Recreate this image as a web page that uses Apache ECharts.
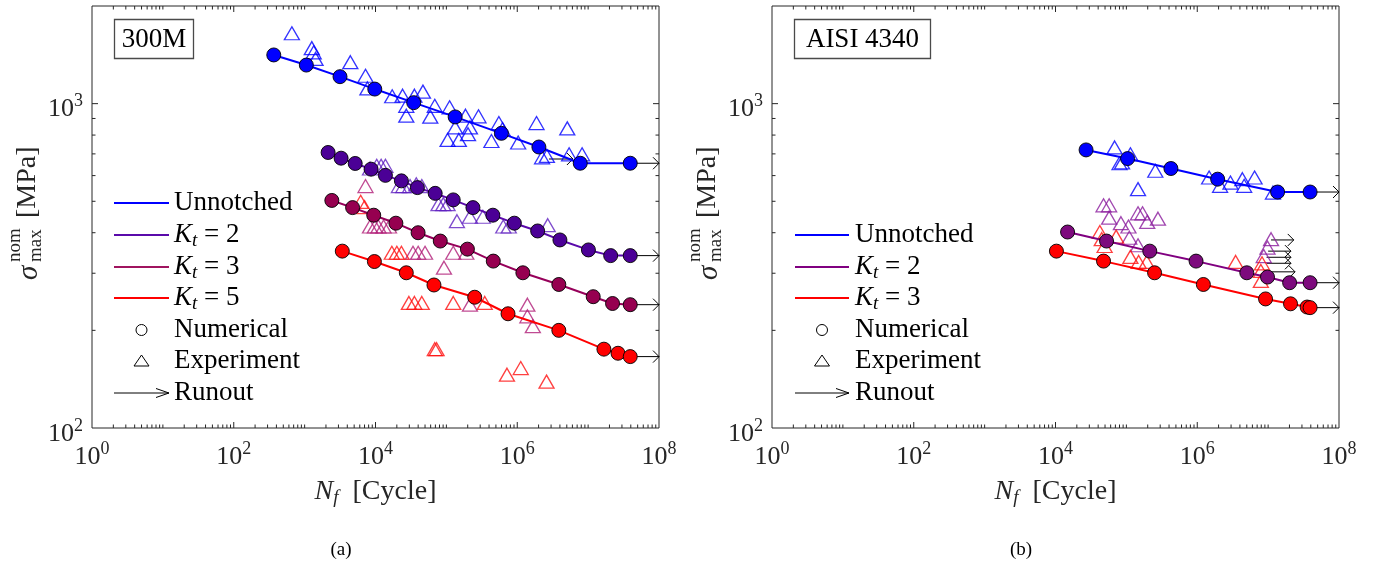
<!DOCTYPE html>
<html><head><meta charset="utf-8">
<script src="https://cdn.jsdelivr.net/npm/echarts@6/dist/echarts.min.js"></script>
<style>html,body{margin:0;padding:0;background:#fff}#c{width:1380px;height:564px}</style>
</head><body><div id="c"></div>
<script>
// ---------------- data: panel (a) 300M  [N cycles, sigma MPa] ----------------
const a_unnotched_num = [[367,1413],[1057,1315],[3157,1211],[9770,1109],[34600,1007],[133000,910],[598000,810],[2.02e6,735],[7.74e6,655],[3.93e7,655]];
const a_unnotched_exp = [[661,1648],[1262,1483],[1343,1440],[1426,1374],[4416,1342],[7230,1219],[7690,1114],[17200,1054],[24100,1058],[27200,985],[35400,1058],[46700,1089],[27200,918],[68600,985],[59300,912],[111000,974],[186000,918],[284000,914],[133000,845],[215000,845],[104000,773],[150000,773],[202000,805],[550000,871],[621000,835],[432000,767],[1.03e6,759],[1.87e6,871],[5.08e6,839],[2.62e6,690],[5.39e6,698],[8.22e6,698],[2.24e6,683]];
const a_kt2_num = [[2145,707],[3270,679],[5170,654],[8660,628],[13800,601],[23200,578],[39000,551],[69500,529],[125000,505],[237000,478],[453000,453],[910000,428],[1.94e6,405],[4.0e6,380],[1.01e7,354],[2.08e7,340],[3.93e7,340]];
const a_kt2_exp = [[8360,631],[10400,643],[12000,643],[13800,643],[21400,557],[24700,557],[30700,557],[37600,564],[45000,557],[77400,490],[90400,490],[104000,490],[141000,434],[215000,448],[327000,448],[635000,418],[760000,418],[2.69e6,422]];
const a_kt3_num = [[2420,503],[4750,478],[9440,453],[19400,428],[39900,400],[82000,377],[198000,356],[459000,327],[1.2e6,301],[3.86e6,277],[1.18e7,254],[2.21e7,242],[3.93e7,240]];
const a_kt3_exp = [[7230,557],[8360,418],[9800,418],[11000,418],[13000,418],[15500,418],[33800,347],[40000,347],[50000,347],[92500,312],[125000,347],[191000,347],[215000,240],[1.39e6,240],[1.39e6,221],[1.66e6,206]];
const a_kt5_num = [[3400,351],[9650,326],[27200,301],[66800,276],[251000,253],[741000,225],[3.86e6,200],[1.67e7,175],[2.64e7,170],[3.93e7,166]];
const a_kt5_exp = [[6180,498],[7000,480],[17000,347],[20000,347],[23200,347],[29600,243],[35400,243],[45000,243],[125000,243],[348000,243],[68600,175],[72800,175],[716000,146],[1.12e6,153],[2.59e6,139]];
const a_runout = [[3.93e7,1e8,655],[3.93e7,1e8,340],[3.93e7,1e8,240],[3.93e7,1e8,166],[2.8e6,6.1e6,675]];

// ---------------- data: panel (b) AISI 4340 ----------------
const b_unnotched_num = [[27000,720],[104000,677],[425000,631],[1.94e6,585],[1.36e7,534],[3.91e7,534]];
const b_unnotched_exp = [[68200,733],[114000,698],[86900,659],[80000,655],[256000,621],[1.47e6,592],[2.1e6,558],[2.94e6,571],[4.33e6,585],[6.44e6,592],[4.59e6,558],[1.17e7,532],[146000,545]];
const b_kt2_num = [[14800,402],[52500,377],[214000,351],[962000,327],[5.0e6,301],[9.8e6,292],[2.01e7,280.5],[3.91e7,280.5]];
const b_kt2_exp = [[47600,486],[57100,486],[57100,445],[83800,428],[107000,418],[146000,459],[169000,459],[197000,432],[279000,442],[110000,386],[146000,366],[1.1e7,382],[9.8e6,360],[8.67e6,339]];
const b_kt3_num = [[10300,351],[47600,327],[250000,301],[1.22e6,277],[9.2e6,250],[2.07e7,241.5],[3.55e7,236],[3.91e7,235]];
const b_kt3_exp = [[42200,402],[44900,382],[49300,364],[71700,389],[114000,337],[149000,325],[194000,325],[3.48e6,325],[8.2e6,322],[7.9e6,305],[7.9e6,284]];
const b_runout = [[3.91e7,1e8,534],[3.91e7,1e8,280.5],[3.91e7,1e8,235],[1.1e7,2.3e7,380],[1.0e7,2.1e7,351],[9.5e6,2.1e7,336],[9.5e6,2.1e7,322],[9.5e6,2.4e7,303]];

// ---------------- axes ----------------
const X_MIN = 1, X_MAX = 1e8, Y_MIN = 100, Y_MAX = 2000;
const xLabelExps = [0, 2, 4, 6, 8];
const yLabelExps = [2, 3];
const xMajorTicks = [1e2, 1e4, 1e6];
const xDecades = [1, 10, 100, 1e3, 1e4, 1e5, 1e6, 1e7];
const xOddDecades = [10, 1e3, 1e5, 1e7];
const minorMult = [2, 3, 4, 5, 6, 7, 8, 9];
const yMajorTicks = [1e3];
const yMinorTicks = [200, 300, 400, 500, 600, 700, 800, 900];

const FONT = "'Liberation Serif','Times New Roman',serif";
const INK = '#262626';

const xMinorTicks = [];
xDecades.forEach(d => minorMult.forEach(m => xMinorTicks.push(d * m)));
xOddDecades.forEach(v => xMinorTicks.push(v));

function expOf(v) { const l = Math.log10(v); const e = Math.round(l); return Math.abs(l - e) < 1e-6 ? e : null; }
const labelRich = {
  b: { fontSize: 26, fontFamily: FONT, color: INK },
  s: { fontSize: 18, fontFamily: FONT, color: INK, padding: [0, 0, 16, 0] }
};
function xAxis(gi) {
  return { type: 'log', gridIndex: gi, logBase: 10, min: X_MIN, max: X_MAX,
    axisLine: { show: false }, axisTick: { show: false }, splitLine: { show: false }, minorTick: { show: false },
    axisLabel: { margin: 12, showMinLabel: true, showMaxLabel: true, hideOverlap: false,
      formatter: v => { const e = expOf(v); return (e !== null && xLabelExps.includes(e)) ? `{b|10}{s|${e}}` : ''; },
      rich: labelRich } };
}
function yAxis(gi) {
  return { type: 'log', gridIndex: gi, logBase: 10, min: Y_MIN, max: Y_MAX,
    axisLine: { show: false }, axisTick: { show: false }, splitLine: { show: false }, minorTick: { show: false },
    axisLabel: { margin: 9, padding: [12, 0, 0, 0], showMinLabel: true, showMaxLabel: true, hideOverlap: false,
      formatter: v => { const e = expOf(v); return (e !== null && yLabelExps.includes(e)) ? `{b|10}{s|${e}}` : ''; },
      rich: labelRich } };
}

function numSeries(gi, data, fill, line) {
  return { type: 'line', xAxisIndex: gi, yAxisIndex: gi, data, symbol: 'circle', symbolSize: 14,
    showSymbol: true, showAllSymbol: true, lineStyle: { color: line, width: 2 },
    itemStyle: { color: fill, borderColor: '#000', borderWidth: 0.9 }, z: 3, silent: true, animation: false };
}
function expSeries(gi, data, color) {
  return { type: 'scatter', xAxisIndex: gi, yAxisIndex: gi, data, symbol: 'triangle', symbolSize: [15, 13],
    itemStyle: { color: 'rgba(0,0,0,0)', borderColor: color, borderWidth: 1.3 }, z: 2, silent: true, animation: false };
}
function runoutSeries(gi, data) {
  return { type: 'custom', xAxisIndex: gi, yAxisIndex: gi, data, encode: { x: [0, 1], y: 2 }, clip: false, z: 1, silent: true,
    renderItem: (p, api) => {
      const a = api.coord([api.value(0), api.value(2)]);
      const b = api.coord([api.value(1), api.value(2)]);
      return { type: 'group', children: [
        { type: 'line', shape: { x1: a[0], y1: a[1], x2: b[0], y2: b[1] }, style: { stroke: '#000', lineWidth: 1 } },
        { type: 'polyline', shape: { points: [[b[0] - 6, b[1] - 6], [b[0], b[1]], [b[0] - 6, b[1] + 6]] }, style: { stroke: '#000', fill: 'none', lineWidth: 1 } }
      ] };
    } };
}
function tickSeries(gi) {
  const list = [];
  xMajorTicks.forEach(v => list.push(['x', v, 6]));
  xMinorTicks.forEach(v => list.push(['x', v, 3.5]));
  yMajorTicks.forEach(v => list.push(['y', v, 6]));
  yMinorTicks.forEach(v => list.push(['y', v, 3.5]));
  const data = list.map(t => t[0] === 'x' ? [t[1], Y_MIN] : [X_MIN, t[1]]);
  return { type: 'custom', xAxisIndex: gi, yAxisIndex: gi, data, clip: false, z: 10, silent: true,
    renderItem: (p, api) => {
      const t = list[p.dataIndex];
      const bl = api.coord([X_MIN, Y_MIN]), tr = api.coord([X_MAX, Y_MAX]);
      let segs;
      if (t[0] === 'x') { const c = api.coord([t[1], Y_MIN])[0]; segs = [[c, bl[1], c, bl[1] - t[2]], [c, tr[1], c, tr[1] + t[2]]]; }
      else { const c = api.coord([X_MIN, t[1]])[1]; segs = [[bl[0], c, bl[0] + t[2], c], [tr[0], c, tr[0] - t[2], c]]; }
      return { type: 'group', children: segs.map(s => ({ type: 'line', shape: { x1: s[0], y1: s[1], x2: s[2], y2: s[3] }, style: { stroke: INK, lineWidth: 1 } })) };
    } };
}

// ---------------- graphics (legend, titles, labels) ----------------
const LEG = 27;
const ktRich = {
  i: { fontSize: LEG, fontFamily: FONT, fontStyle: 'italic', fill: '#000' },
  sub: { fontSize: 19, fontFamily: FONT, fontStyle: 'italic', fill: '#000', padding: [12, 0, 0, 0] },
  r: { fontSize: LEG, fontFamily: FONT, fill: '#000' }
};
function legend(x1, x2, tx, rows) {
  const g = [];
  const cx = (x1 + x2) / 2;
  rows.forEach(r => {
    if (r.kind === 'line') g.push({ type: 'line', shape: { x1, y1: r.y, x2, y2: r.y }, style: { stroke: r.color, lineWidth: 2 } });
    if (r.kind === 'circle') g.push({ type: 'circle', shape: { cx, cy: r.y, r: 5.5 }, style: { stroke: '#000', fill: 'none', lineWidth: 1 } });
    if (r.kind === 'tri') g.push({ type: 'polygon', shape: { points: [[cx, r.y - 6], [cx + 7.5, r.y + 5], [cx - 7.5, r.y + 5]] }, style: { stroke: '#000', fill: 'none', lineWidth: 1 } });
    if (r.kind === 'arrow') {
      g.push({ type: 'line', shape: { x1, y1: r.y, x2, y2: r.y }, style: { stroke: '#000', lineWidth: 1 } });
      g.push({ type: 'polyline', shape: { points: [[x2 - 13, r.y - 4.5], [x2, r.y], [x2 - 13, r.y + 4.5]] }, style: { stroke: '#000', fill: 'none', lineWidth: 1 } });
    }
    const style = r.kt
      ? { text: `{i|K}{sub|t}{r| = ${r.kt}}`, rich: ktRich, verticalAlign: 'middle', align: 'left' }
      : { text: r.text, fontSize: LEG, fontFamily: FONT, fill: '#000', verticalAlign: 'middle', align: 'left' };
    g.push({ type: 'text', x: tx, y: r.y, style });
  });
  return g;
}
function yTitle(x, y) {
  return { type: 'group', x, y, rotation: Math.PI / 2, children: [
    { type: 'text', x: 0, y: 0, style: { text: 'σ', fontSize: 29, fontStyle: 'italic', fontFamily: FONT, fill: INK, verticalAlign: 'middle', align: 'left' } },
    { type: 'text', x: 18, y: -14, style: { text: 'nom', fontSize: 19, fontFamily: FONT, fill: INK, verticalAlign: 'middle', align: 'left' } },
    { type: 'text', x: 18, y: 7, style: { text: 'max', fontSize: 19, fontFamily: FONT, fill: INK, verticalAlign: 'middle', align: 'left' } },
    { type: 'text', x: 62, y: -1, style: { text: '[MPa]', fontSize: 28, fontFamily: FONT, fill: INK, verticalAlign: 'middle', align: 'left' } }
  ] };
}
function xTitle(x, y) {
  return { type: 'text', x, y, style: { text: '{i|N}{sub|f}{r|  [Cycle]}', align: 'center', verticalAlign: 'middle',
    rich: { i: { fontSize: 28, fontFamily: FONT, fontStyle: 'italic', fill: INK },
            sub: { fontSize: 19, fontFamily: FONT, fontStyle: 'italic', fill: INK, padding: [12, 0, 0, 0] },
            r: { fontSize: 28, fontFamily: FONT, fill: INK } } } };
}
function tagBox(x, y, w, h, text) {
  return [
    { type: 'rect', shape: { x, y, width: w, height: h }, style: { stroke: '#4a4a4a', fill: '#fff', lineWidth: 1.3 }, z: 20 },
    { type: 'text', x: x + w / 2, y: y + h / 2 + 1, z: 21, style: { text, fontSize: 27, fontFamily: FONT, fill: '#000', align: 'center', verticalAlign: 'middle' } }
  ];
}
const graphics = [].concat(
  legend(114, 169, 174, [
    { y: 203, kind: 'line', color: '#0000FF', text: 'Unnotched' },
    { y: 235, kind: 'line', color: '#5A0AAA', kt: '2' },
    { y: 267, kind: 'line', color: '#A0145F', kt: '3' },
    { y: 298, kind: 'line', color: '#FF0000', kt: '5' },
    { y: 330, kind: 'circle', text: 'Numerical' },
    { y: 361, kind: 'tri', text: 'Experiment' },
    { y: 393, kind: 'arrow', text: 'Runout' }
  ]),
  legend(795, 849, 855, [
    { y: 235, kind: 'line', color: '#0000FF', text: 'Unnotched' },
    { y: 267, kind: 'line', color: '#800080', kt: '2' },
    { y: 298, kind: 'line', color: '#FF0000', kt: '3' },
    { y: 330, kind: 'circle', text: 'Numerical' },
    { y: 361, kind: 'tri', text: 'Experiment' },
    { y: 393, kind: 'arrow', text: 'Runout' }
  ]),
  tagBox(114.5, 19.5, 79, 39, '300M'),
  tagBox(794.5, 19.5, 136, 39, 'AISI 4340'),
  [yTitle(29, 280), yTitle(709, 280), xTitle(375.5, 492), xTitle(1055.5, 492),
   { type: 'text', x: 341, y: 550, style: { text: '(a)', fontSize: 19, fontFamily: FONT, fill: '#000', align: 'center', verticalAlign: 'middle' } },
   { type: 'text', x: 1021, y: 550, style: { text: '(b)', fontSize: 19, fontFamily: FONT, fill: '#000', align: 'center', verticalAlign: 'middle' } }]
);

const option = {
  animation: false,
  backgroundColor: '#fff',
  grid: [
    { left: 92, top: 6, width: 567, height: 422, show: true, borderColor: INK, borderWidth: 1, backgroundColor: 'transparent', outerBoundsMode: 'none', containLabel: false },
    { left: 772, top: 6, width: 567, height: 422, show: true, borderColor: INK, borderWidth: 1, backgroundColor: 'transparent', outerBoundsMode: 'none', containLabel: false }
  ],
  xAxis: [xAxis(0), xAxis(1)],
  yAxis: [yAxis(0), yAxis(1)],
  series: [
    runoutSeries(0, a_runout),
    expSeries(0, a_unnotched_exp, '#0000FF'),
    expSeries(0, a_kt2_exp, '#5F1FC0'),
    expSeries(0, a_kt3_exp, '#B01E78'),
    expSeries(0, a_kt5_exp, '#FF1010'),
    numSeries(0, a_unnotched_num, '#0000FF', '#0000FF'),
    numSeries(0, a_kt2_num, '#4B0096', '#5A0AAA'),
    numSeries(0, a_kt3_num, '#960050', '#96005A'),
    numSeries(0, a_kt5_num, '#FF0000', '#FF0000'),
    tickSeries(0),
    runoutSeries(1, b_runout),
    expSeries(1, b_unnotched_exp, '#0000FF'),
    expSeries(1, b_kt2_exp, '#8A1A9C'),
    expSeries(1, b_kt3_exp, '#FF1010'),
    numSeries(1, b_unnotched_num, '#0000FF', '#0000FF'),
    numSeries(1, b_kt2_num, '#7D0A7D', '#800080'),
    numSeries(1, b_kt3_num, '#FF0000', '#FF0000'),
    tickSeries(1)
  ],
  graphic: { elements: graphics }
};
const chart = echarts.init(document.getElementById('c'), null, { renderer: 'canvas' });
chart.setOption(option);
</script></body></html>
